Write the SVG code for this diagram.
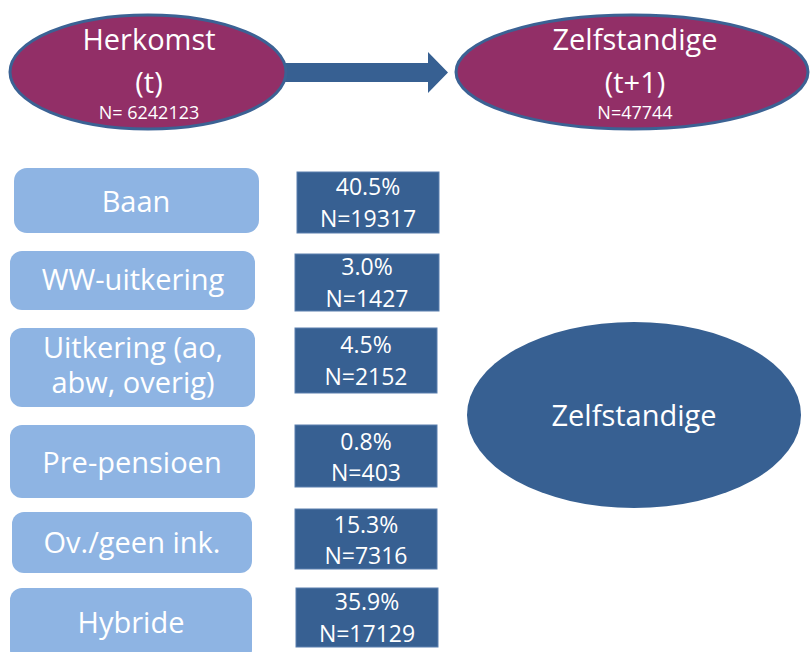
<svg xmlns="http://www.w3.org/2000/svg" width="811" height="652" viewBox="0 0 811 652">
<style>
text{font-family:"Open Sans","Liberation Sans",sans-serif;fill:#fff;text-anchor:middle}
.top{fill:#922F67;stroke:#3B6294;stroke-width:3}
.src{fill:#8EB4E3}
.pct{fill:#376092;stroke:#5A7FAE;stroke-width:1}
.big{font-size:29px}
.mid{font-size:23px}
.sm{font-size:18px}
</style>
<rect width="811" height="652" fill="#fff"/>
<g id="connectors">
<polygon points="271,63 428,63 428,52 448,72.5 428,93 428,82 271,82" fill="#376092"/>
</g>
<g id="herkomst">
<ellipse class="top" cx="148" cy="72" rx="138" ry="57"/>
<text class="big" x="149" y="50">Herkomst</text>
<text class="big" x="149" y="93">(t)</text>
<text class="sm" x="149" y="119">N= 6242123</text>
</g>
<g id="zelfstandige-t1">
<ellipse class="top" cx="632" cy="72" rx="176" ry="57"/>
<text class="big" x="635" y="50">Zelfstandige</text>
<text class="big" x="635" y="93">(t+1)</text>
<text class="sm" x="635" y="119">N=47744</text>
</g>
<g id="baan">
<rect class="src" x="14" y="168" width="245" height="65" rx="13"/>
<text class="big" x="136" y="212">Baan</text>
</g>
<g id="ww">
<rect class="src" x="10" y="251" width="245" height="59" rx="12"/>
<text class="big" x="133" y="290">WW-uitkering</text>
</g>
<g id="uitkering">
<rect class="src" x="10" y="328" width="245" height="79" rx="12"/>
<text class="big" x="133" y="358">Uitkering (ao,</text>
<text class="big" x="133" y="393">abw, overig)</text>
</g>
<g id="prepensioen">
<rect class="src" x="10" y="425" width="245" height="73" rx="12"/>
<text class="big" x="132" y="473">Pre-pensioen</text>
</g>
<g id="ovgeen">
<rect class="src" x="12" y="512" width="240" height="61" rx="12"/>
<text class="big" x="132" y="553">Ov./geen ink.</text>
</g>
<g id="hybride">
<rect class="src" x="10" y="588" width="242" height="74" rx="12"/>
<text class="big" x="131" y="633">Hybride</text>
</g>
<g id="p-baan">
<rect class="pct" x="297" y="172" width="142" height="61"/>
<text class="mid" x="368" y="195">40.5%</text>
<text class="mid" x="368" y="227">N=19317</text>
</g>
<g id="p-ww">
<rect class="pct" x="295" y="254" width="144" height="57"/>
<text class="mid" x="367" y="275">3.0%</text>
<text class="mid" x="367" y="307">N=1427</text>
</g>
<g id="p-uitkering">
<rect class="pct" x="295" y="328" width="142" height="65"/>
<text class="mid" x="366" y="353">4.5%</text>
<text class="mid" x="366" y="385">N=2152</text>
</g>
<g id="p-prepensioen">
<rect class="pct" x="295" y="425" width="142" height="62"/>
<text class="mid" x="366" y="450">0.8%</text>
<text class="mid" x="366" y="481">N=403</text>
</g>
<g id="p-ovgeen">
<rect class="pct" x="295" y="509" width="142" height="60"/>
<text class="mid" x="366" y="533">15.3%</text>
<text class="mid" x="366" y="564">N=7316</text>
</g>
<g id="p-hybride">
<rect class="pct" x="296" y="588" width="142" height="59"/>
<text class="mid" x="367" y="610">35.9%</text>
<text class="mid" x="367" y="642">N=17129</text>
</g>
<g id="zelfstandige">
<ellipse cx="634" cy="415" rx="167" ry="93" fill="#376092"/>
<text class="big" x="634" y="426">Zelfstandige</text>
</g>
</svg>
